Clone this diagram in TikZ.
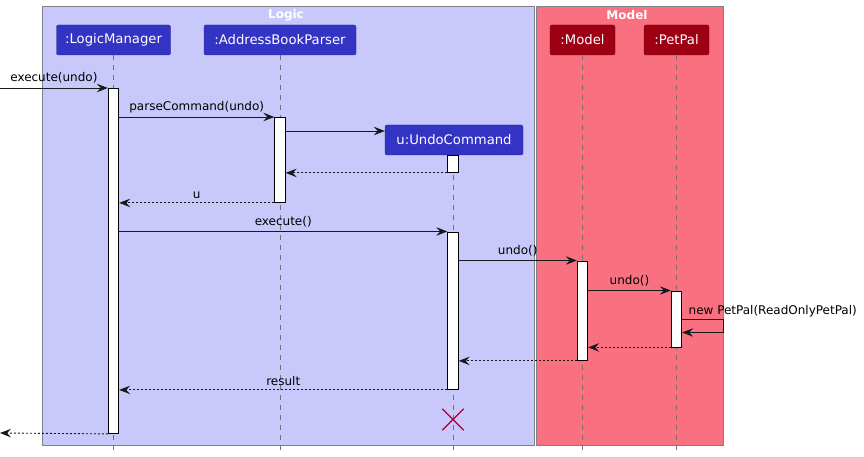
\documentclass[tikz,border=0pt]{standalone}
\usepackage{fontspec}
\setmainfont{DejaVu Sans}
\usetikzlibrary{arrows.meta,shapes.misc}
\definecolor{logicbg}{HTML}{C8C8FA}
\definecolor{logicpart}{HTML}{3333C4}
\definecolor{modelbg}{HTML}{F97181}
\definecolor{modelpart}{HTML}{9D0012}
\definecolor{framegrey}{HTML}{80808A}
\definecolor{destroyred}{HTML}{A80036}

\begin{document}
\begin{tikzpicture}[x=1pt,y=-1pt,
    font=\fontsize{12}{14}\selectfont,
    frame box/.style={draw=framegrey, line width=0.8pt, inner sep=0pt, anchor=north west},
    frame title/.style={text=white, inner sep=0pt, font=\bfseries\fontsize{12}{14}\selectfont},
    logic part/.style={draw=logicpart!75!black, fill=logicpart, text=white, rounded corners=2pt,
                       minimum height=30pt, inner sep=0pt, font=\fontsize{13.2}{15}\selectfont},
    model part/.style={logic part, draw=modelpart!75!black, fill=modelpart},
    act bar/.style={draw, fill=white, line width=0.9pt, minimum width=10.5pt, inner sep=0pt, anchor=north},
    life line/.style={draw=black!55, line width=0.7pt, dash pattern=on 5pt off 5pt},
    msg/.style={draw=black!90, line width=0.9pt, -{Stealth[length=11pt,width=8.5pt,inset=4pt]}},
    reply/.style={msg, dash pattern=on 2pt off 2pt},
    lbl/.style={above=4pt, inner sep=0pt}]

  \useasboundingbox (0,0) rectangle (864,457);

  % frames
  \node[frame box, fill=logicbg, minimum width=492pt, minimum height=439pt] (logic) at (42,6) {};
  \node[frame box, fill=modelbg, minimum width=186.5pt, minimum height=439pt] (model) at (536,6) {};
  \node[frame title] (logicTitle) at (286,15) {Logic};
  \node[frame title] (modelTitle) at (627,15) {Model};

  % participants
  \node[logic part, minimum width=114pt] (lm) at (113.5,40) {:LogicManager};
  \node[logic part, minimum width=152pt] (abp) at (280,40) {:AddressBookParser};
  \node[logic part, minimum width=138pt] (uc) at (454,140) {u:UndoCommand};
  \node[model part, minimum width=65pt] (mdl) at (582.5,40) {:Model};
  \node[model part, minimum width=65pt] (pp) at (676.5,40) {:PetPal};

  % life lines
  \draw[life line] (lm.south) -- (lm.south |- 0,452);
  \draw[life line] (abp.south) -- (abp.south |- 0,452);
  \draw[life line] (453,155) -- (453,452);
  \draw[life line] (mdl.south) -- (mdl.south |- 0,452);
  \draw[life line] (pp.south) -- (pp.south |- 0,452);

  % activations
  \node[act bar, minimum height=345pt] (actLM) at (113.5,88) {};
  \node[act bar, minimum height=85pt] (actAB) at (280,117) {};
  \node[act bar, minimum height=17pt] (actUCa) at (453,155) {};
  \node[act bar, minimum height=157.5pt] (actUCb) at (453,231.5) {};
  \node[act bar, minimum height=99.5pt] (actM) at (582.5,260.5) {};
  \node[act bar, minimum height=56pt] (actP) at (676.5,290.5) {};

  % messages
  \coordinate (in) at (0,88);
  \coordinate (out) at (0,433);
  \coordinate (selfA) at (723,319.5);
  \coordinate (selfB) at (723,332.5);

  \draw[msg] (in) -- node[lbl] {execute(undo)} (actLM.north west);
  \draw[msg] (actLM.east |- actAB.north) -- node[lbl] {parseCommand(undo)} (actAB.north west);
  \draw[msg] (actAB.east |- 0,131) -- (uc.west |- 0,131);
  \draw[reply] (actUCa.south west) -- (actAB.east |- actUCa.south);
  \draw[reply] (actAB.south west) -- node[lbl] {u} (actLM.east |- actAB.south);
  \draw[msg] (actLM.east |- actUCb.north) -- node[lbl] {execute()} (actUCb.north west);
  \draw[msg] (actUCb.east |- actM.north) -- node[lbl] {undo()} (actM.north west);
  \draw[msg] (actM.east |- actP.north) -- node[lbl] {undo()} (actP.north west);
  \draw[msg] (actP.east |- selfA)
    -- node[pos=0, anchor=south west, inner sep=0pt, xshift=6pt, yshift=2pt] {new PetPal(ReadOnlyPetPal)} (selfA)
    -- (selfB) -- (actP.east |- selfB);
  \draw[reply] (actP.south west) -- (actM.east |- actP.south);
  \draw[reply] (actM.south west) -- (actUCb.east |- actM.south);
  \draw[reply] (actUCb.south west) -- node[lbl] {result} (actLM.east |- actUCb.south);
  \draw[reply] (actLM.south west) -- (out);

  % destroy
  \node[draw=destroyred, cross out, line width=1.3pt, minimum size=20pt, inner sep=0pt] (ucEnd) at (453,419.5) {};
\end{tikzpicture}
\end{document}
